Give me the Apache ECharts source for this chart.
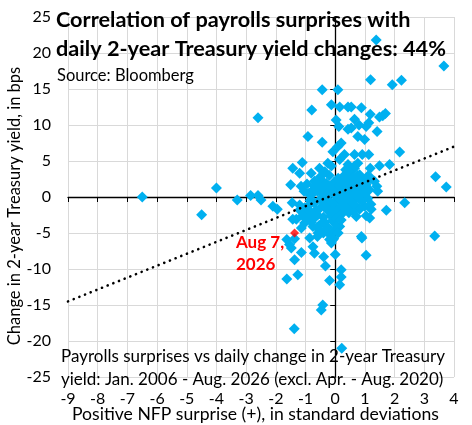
<!DOCTYPE html>
<html lang="en">
<head>
    <meta charset="UTF-8">
    <title>Payrolls surprises vs 2-year Treasury yield</title>
    <style>
        html, body { margin: 0; padding: 0; background: #fff; }
    </style>
</head>
<body>
<div id="main" style="width: 472px;height:425px;"></div>
<script src="https://cdn.jsdelivr.net/npm/echarts@6/dist/echarts.min.js"></script>
<script>
    // NFP surprise (std devs) and change in 2y yield (bps)
    var nfpSurprise = [
        -6.5, -4.5, -4.0, -3.3, -2.85, -2.6, -2.5, -2.6, -2.1, -1.95,
        -1.63, -1.38, -1.37, -1.26, -1.14, -1.43, -1.5, -1.45, -1.11, -1.2,
        -0.92, -0.79, -0.44, -0.44, -0.13, 0.09, 0.15, 0.43, 0.54, 0.88,
        0.03, 0.12, 0.43, 0.54, 0.65, 0.8, 1.04, 1.13, 1.18, 1.41,
        1.49, 1.6, 1.69, 0.76, 0.99, 0.91, 0.65, 1.13, 0.76, 1.38,
        1.19, 1.92, 2.23, 3.66, 2.17, 1.83, 1.49, 1.18, 3.38, 3.74,
        2.34, 1.72, 3.35, 1.04, 0.9, 0.88, 0.2, 0.2, 0.15, -0.19,
        0.22, -0.42, -0.47, -0.33, -0.39, 0.0, -0.19, -0.13, -0.7, -0.75,
        -0.86, -1.37, -1.63, -1.48, -1.54, -0.58, -0.55, -0.47, 0.03, 0.15,
        -0.19, -0.08, -1.14, -1.03, -0.75, -0.7, -0.81, -1.03, -1.2, -1.31,
        -1.43, 0.37, 0.46, 0.71, 0.82, 0.99, 1.04, 1.16, 1.21, 0.71,
        0.6, -0.81, -0.7, -0.53, -0.25, -0.13, -0.08, 0.09, 0.2, 0.31,
        0.15, 0.43, 0.46, 0.65, 0.82, 0.99, 1.1, 1.21, 1.32, 1.4,
        1.43, 1.04, 0.93, 0.82,
        -1.0, -0.9, -0.85, -0.8, -0.75, -0.7, -0.65, -0.6, -0.6, -0.55,
        -0.5, -0.5, -0.45, -0.45, -0.4, -0.4, -0.35, -0.35, -0.3, -0.3,
        -0.25, -0.25, -0.2, -0.2, -0.15, -0.15, -0.1, -0.1, -0.05, -0.05,
        0.0, 0.0, 0.05, 0.05, 0.1, 0.1, 0.15, 0.15, 0.2, 0.2,
        0.25, 0.25, 0.3, 0.3, 0.35, 0.35, 0.4, 0.4, 0.45, 0.45,
        0.5, 0.5, 0.55, 0.55, 0.6, 0.6, 0.65, 0.7, 0.7, 0.75,
        0.8, 0.85, 0.9, 0.95, 1.0, 1.05, 1.1, 1.15, 1.2, -1.1,
        -1.2, -0.95, -0.9, -0.8, -0.7, -0.55, -0.5, -0.3, -0.2, -0.6,
        0.05, 0.2, 0.1, -0.05, -0.1, 0.3, -1.05, -1.15, -0.95, -0.4,
        -0.75, 0.6, 0.8, 0.35, -0.35, 0.65
    ];
    var yieldChange = [
        0.0, -2.45, 1.25, -0.4, 0.2, 0.2, -0.4, 11.0, -1.3, -1.7,
        -11.4, -18.3, -8.7, -10.8, -7.7, 4.0, 1.7, -0.8, 4.8, 3.3,
        8.4, 12.1, 14.9, 7.6, 12.8, 14.9, 12.5, 12.5, 12.5, 12.4,
        10.7, 9.8, 9.4, 9.6, 10.8, 10.0, 9.8, 10.3, 11.5, 9.1,
        11.1, 11.3, 11.6, 8.4, 8.0, 5.9, 5.9, 5.9, 4.7, 21.8,
        16.3, 15.6, 16.2, 18.2, 6.25, 4.5, 4.35, 4.0, 2.8, 1.4,
        -0.8, -1.85, -5.4, -8.1, -5.7, -5.5, -10.1, -11.1, -12.2, -11.6,
        -21.0, -15.0, -15.7, -9.6, -8.3, -8.0, -5.9, -6.4, -7.8, -6.9,
        -5.7, -5.8, -5.9, -7.1, -6.6, -5.0, -4.5, -3.7, -4.5, -4.1,
        -5.2, -4.9, -4.3, -3.6, -4.1, -2.9, -2.2, -1.5, -1.1, -3.1,
        -3.1, -1.1, -2.2, -1.3, -1.7, -1.3, -2.6, -2.9, -1.7, -2.7,
        -2.0, 3.3, 2.2, 4.0, 4.7, 4.3, 6.3, 7.0, 7.5, 5.9,
        5.2, 4.5, 3.3, 4.0, 3.1, 2.4, 2.9, 2.6, 2.2, 1.5,
        0.8, 1.7, 0.8, 0.1,
        -2.0, -1.2, -0.5, 0.3, 1.0, 1.5, -1.8, -2.5, 0.8, 1.8,
        -0.3, -1.5, 0.5, 2.3, -2.8, 1.2, -0.8, -3.5, 0.2, 1.9,
        -1.9, -4.2, 0.9, -0.5, -2.6, 1.5, -1.2, -3.3, 0.4, 2.0,
        -0.7, -2.1, 1.1, -3.0, 0.0, 2.6, -1.5, 1.6, -0.4, -2.4,
        0.7, 2.2, -1.0, 3.0, 0.3, 1.4, -0.2, 2.5, 0.9, -1.6,
        1.8, 3.4, 0.2, -0.8, 1.2, 2.7, -0.3, 0.6, 1.9, 3.0,
        1.0, 2.2, -0.6, 1.5, 0.4, 2.0, -0.2, 1.0, -1.0, -2.6,
        -1.8, -3.0, 0.5, -3.5, -0.8, -4.0, 2.8, -1.5, 3.0, -5.5,
        -4.0, -3.2, -5.0, -5.8, -6.0, -2.0, 0.8, 1.5, 1.8, -5.0,
        -2.5, -1.0, -0.2, 3.8, 3.5, 4.3
    ];

    // latest release (Aug 7, 2026)
    var latestX = [-1.37];
    var latestY = [-5.0];
    var latestLabel = 'Aug 7,\n2026';

    // linear trend endpoints
    var trendX = [-9, 4];
    var trendY = [-14.5, 7.0];

    var xTicks = { min: -9, max: 4, step: 1 };
    var yTicks = { min: -25, max: 25, step: 5 };

    var points = [];
    for (var i = 0; i < nfpSurprise.length; i++) {
        points.push([nfpSurprise[i], yieldChange[i]]);
    }
    var latest = [[latestX[0], latestY[0]]];
    var trend = [[trendX[0], trendY[0]], [trendX[1], trendY[1]]];

    var font = 'Lato, "Open Sans", sans-serif';

    var myChart = echarts.init(document.getElementById('main'));
    myChart.setOption({
        animation: false,
        backgroundColor: '#fff',
        grid: { left: 68, right: 18, top: 17, bottom: 48 },
        xAxis: [{
            type: 'value',
            min: xTicks.min, max: xTicks.max, interval: xTicks.step,
            position: 'bottom',
            axisLine: { show: false, onZero: false },
            axisTick: { show: false },
            axisLabel: { color: '#000', fontFamily: font, fontSize: 16, margin: 14 },
            splitLine: { show: true, lineStyle: { color: '#d9d9d9', width: 1 } }
        }, {
            // zero line with ticks, crossing at y = 0
            type: 'value',
            min: xTicks.min, max: xTicks.max, interval: xTicks.step,
            position: 'bottom',
            axisLine: { show: true, onZero: true, onZeroAxisIndex: 0, lineStyle: { color: '#000', width: 1.3 } },
            axisTick: { show: true, length: 5, lineStyle: { color: '#000' } },
            axisLabel: { show: false },
            splitLine: { show: false }
        }],
        yAxis: [{
            type: 'value',
            min: yTicks.min, max: yTicks.max, interval: yTicks.step,
            position: 'left',
            axisLine: { show: false, onZero: false },
            axisTick: { show: false },
            axisLabel: { color: '#000', fontFamily: font, fontSize: 16, margin: 17 },
            splitLine: { show: true, lineStyle: { color: '#d9d9d9', width: 1 } }
        }, {
            type: 'value',
            min: yTicks.min, max: yTicks.max, interval: yTicks.step,
            position: 'left',
            axisLine: { show: true, onZero: true, onZeroAxisIndex: 0, lineStyle: { color: '#000', width: 1.3 } },
            axisTick: { show: true, length: 5, lineStyle: { color: '#000' } },
            axisLabel: { show: false },
            splitLine: { show: false }
        }],
        series: [{
            type: 'scatter',
            symbol: 'diamond',
            symbolSize: 11,
            itemStyle: { color: '#00b0f0', opacity: 1 },
            data: points
        }, {
            type: 'line',
            data: trend,
            symbol: 'none',
            lineStyle: { color: '#000', width: 2.6, type: [0.1, 6], cap: 'round' },
            z: 3
        }, {
            type: 'scatter',
            symbol: 'diamond',
            symbolSize: 9,
            itemStyle: { color: '#ff0000' },
            data: latest,
            z: 4
        }],
        graphic: [
            { type: 'text', left: 56, top: 9, z: 10,
              style: { text: 'Correlation of payrolls surprises with', font: 'bold 21.7px ' + font, fill: '#000' } },
            { type: 'text', left: 56, top: 38, z: 10,
              style: { text: 'daily 2-year Treasury yield changes: 44%', font: 'bold 21.7px ' + font, fill: '#000' } },
            { type: 'text', left: 57, top: 67, z: 10,
              style: { text: 'Source: Bloomberg', font: '16.5px ' + font, fill: '#000' } },
            { type: 'text', left: 61, top: 348, z: 10,
              style: { text: 'Payrolls surprises vs daily change in 2-year Treasury', font: '17px ' + font, fill: '#000' } },
            { type: 'text', left: 61, top: 371, z: 10,
              style: { text: 'yield: Jan. 2006 - Aug. 2026 (excl. Apr. - Aug. 2020)', font: '17px ' + font, fill: '#000' } },
            { type: 'text', left: 72, top: 405, z: 10,
              style: { text: 'Positive NFP surprise (+), in standard deviations', font: '17.6px ' + font, fill: '#000' } },
            { type: 'text', x: 15, y: 206, rotation: Math.PI / 2, z: 10,
              style: { text: 'Change in 2-year Treasury yield, in bps', font: '16.5px ' + font, fill: '#000', align: 'center', verticalAlign: 'middle' } },
            { type: 'text', left: 236, top: 232, z: 10,
              style: { text: latestLabel, font: 'bold 17px ' + font, fill: '#ff0000', lineHeight: 22 } }
        ]
    });
</script>
</body>
</html>
